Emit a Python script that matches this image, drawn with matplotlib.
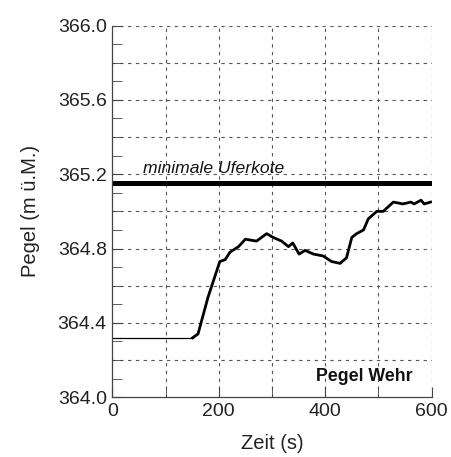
import numpy as np
import matplotlib
matplotlib.use('Agg')
from matplotlib import pyplot as plt
from matplotlib.ticker import MultipleLocator

# Pegel am Wehr
zeit = [0, 151, 161, 180, 202, 212, 221, 237, 250, 271, 290, 302, 318, 331, 339,
        351, 362, 378, 396, 412, 428, 440, 450, 459, 472, 481, 497, 509, 528,
        546, 561, 567, 580, 586, 598]
pegel = [364.32, 364.32, 364.34, 364.54, 364.73, 364.74, 364.78, 364.81, 364.85,
         364.84, 364.88, 364.86, 364.84, 364.81, 364.83, 364.77, 364.79, 364.77,
         364.76, 364.73, 364.72, 364.75, 364.86, 364.88, 364.90, 364.96, 365.00,
         365.00, 365.05, 365.04, 365.05, 365.04, 365.06, 365.04, 365.05]
n_flat = 2  # the first segment (steady level) is drawn thin

uferkote = 365.15

fonts = ['Liberation Sans', 'DejaVu Sans']

fig = plt.figure(figsize=(4.52, 4.57), dpi=100)
ax = fig.add_axes([0.2485, 0.131, 0.7065, 0.813])

ax.plot(zeit[:n_flat], pegel[:n_flat], color='k', lw=0.9)
ax.plot(zeit[n_flat - 1:], pegel[n_flat - 1:], color='k', lw=2.0)
ax.axhline(uferkote, color='k', lw=3.6)

ax.set_xlim(0, 600)
ax.set_ylim(364.0, 366.0)
ax.xaxis.set_major_locator(MultipleLocator(200))
ax.xaxis.set_minor_locator(MultipleLocator(100))
ax.yaxis.set_major_locator(MultipleLocator(0.4))
ax.yaxis.set_minor_locator(MultipleLocator(0.1))
ax.yaxis.set_major_formatter(matplotlib.ticker.FormatStrFormatter('%.1f'))

# grid every 100 s and 0.2 m
for x in np.arange(100, 601, 100):
    ax.axvline(x, color='#555555', lw=0.8, ls=(0, (3, 4)), zorder=0)
for y in np.arange(364.2, 366.01, 0.2):
    ax.axhline(y, color='#555555', lw=0.8, ls=(0, (3, 4)), zorder=0)

for s in ['top', 'right']:
    ax.spines[s].set_visible(False)
for s in ['left', 'bottom']:
    ax.spines[s].set_color('#444444')
    ax.spines[s].set_linewidth(0.9)

ax.tick_params(which='both', direction='in', color='#444444', labelsize=14,
               labelcolor='#222222')
ax.tick_params(which='major', length=7, pad=4)
ax.tick_params(which='minor', length=7)
for lab in ax.get_xticklabels() + ax.get_yticklabels():
    lab.set_fontfamily(fonts)

ax.text(58, 365.205, 'minimale Uferkote', fontsize=12.6, style='italic',
        family=fonts, va='baseline', color='#111111')
ax.text(565, 364.086, 'Pegel Wehr', fontsize=12.8, fontweight='bold',
        family=fonts, ha='right', va='baseline', color='#111111')

ax.set_xlabel('Zeit (s)', fontsize=14.5, family=fonts, color='#222222', labelpad=10)
ax.set_ylabel('Pegel (m ü.M.)', fontsize=14.5, family=fonts, color='#222222',
              labelpad=13)

fig.savefig('out.png', dpi=100)
